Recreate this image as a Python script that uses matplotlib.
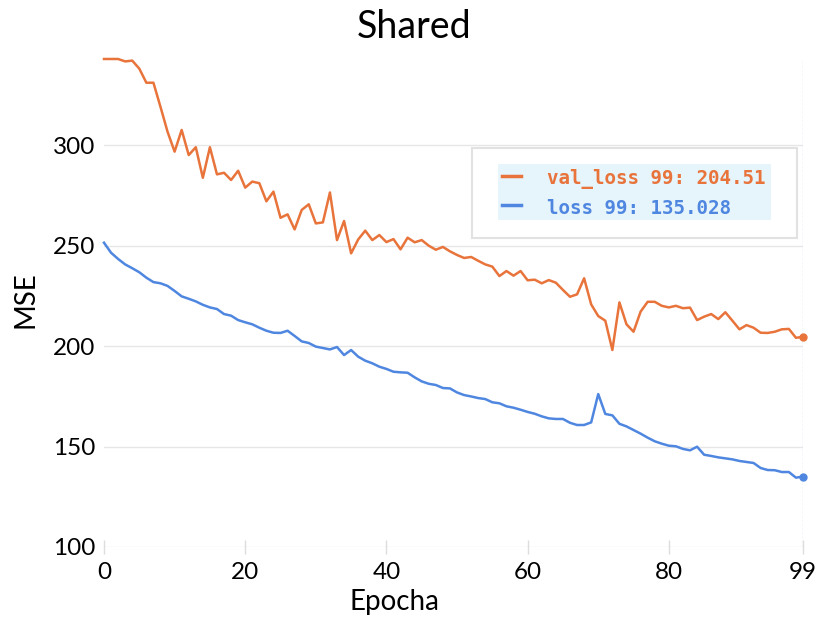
import numpy as np
import matplotlib
matplotlib.use("Agg")
import matplotlib.pyplot as plt
from matplotlib.patches import Rectangle
from matplotlib.lines import Line2D

# loss per epoch
epoche = np.arange(100)

val_loss = [
    342.8, 342.8, 342.8, 341.6, 342.0, 338.0, 331.0, 331.0, 319.0, 306.6,
    296.7, 307.5, 295.0, 298.9, 283.7, 298.9, 285.4, 286.2, 282.6, 287.2,
    278.8, 281.8, 281.0, 272.0, 276.8, 263.8, 265.5, 258.0, 267.7, 270.5,
    261.0, 261.5, 276.4, 252.7, 262.2, 246.1, 253.0, 257.4, 252.7, 255.2,
    251.7, 253.2, 248.1, 253.9, 251.6, 252.7, 249.9, 247.9, 249.3, 247.1,
    245.3, 243.8, 244.3, 242.4, 240.6, 239.5, 234.8, 237.3, 235.0, 237.3,
    232.7, 233.0, 231.2, 232.8, 231.5, 227.9, 224.5, 225.7, 233.7, 220.7,
    214.9, 212.6, 198.0, 221.7, 210.8, 207.1, 217.1, 222.0, 222.0, 220.0,
    219.2, 220.0, 218.8, 219.1, 212.9, 214.6, 215.9, 213.4, 216.8, 212.6,
    208.3, 210.4, 209.1, 206.6, 206.5, 207.1, 208.3, 208.5, 204.1, 204.51,
]

loss = [
    251.4, 246.4, 243.3, 240.6, 238.7, 236.7, 234.0, 231.8, 231.2, 229.9,
    227.4, 224.7, 223.5, 222.2, 220.5, 219.2, 218.4, 215.9, 215.1, 212.9,
    211.8, 210.8, 209.1, 207.6, 206.6, 206.5, 207.6, 205.0, 202.3, 201.5,
    199.7, 199.0, 198.3, 199.5, 195.5, 198.0, 194.7, 192.7, 191.4, 189.7,
    188.6, 187.2, 186.9, 186.7, 184.4, 182.4, 181.2, 180.6, 179.1, 178.9,
    176.9, 175.6, 174.9, 174.1, 173.6, 172.0, 171.5, 170.0, 169.3, 168.3,
    167.2, 166.3, 165.0, 164.0, 163.7, 163.7, 161.8, 160.7, 160.7, 162.0,
    176.1, 166.2, 165.5, 161.3, 160.0, 158.2, 156.4, 154.4, 152.6, 151.4,
    150.4, 150.1, 148.8, 148.1, 149.9, 145.9, 145.3, 144.6, 144.1, 143.6,
    142.8, 142.3, 141.8, 139.3, 138.3, 138.2, 137.3, 137.3, 134.5, 135.028,
]

x_ticks = [0, 20, 40, 60, 80, 99]
y_ticks = [100, 150, 200, 250, 300]

ARANCIO = "#E8743B"
BLU = "#4F87E0"

plt.rcParams["font.family"] = ["Lato", "DejaVu Sans"]

fig = plt.figure(figsize=(8.19, 6.19), dpi=100)
ax = fig.add_axes([0.12698, 0.11632, 0.85348, 0.78837])

# griglia orizzontale leggera
for yv in y_ticks:
    ax.axhline(yv, color="#e6e6e6", lw=1.0, zorder=0)

# linea verticale sull'ultima epoca
ax.axvline(epoche[-1], color="#c9dff2", lw=1.0, ls=(0, (2, 1)), zorder=1)

ax.plot(epoche, val_loss, color=ARANCIO, lw=1.8, zorder=3, clip_on=False)
ax.plot(epoche, loss, color=BLU, lw=1.8, zorder=3, clip_on=False)
ax.plot(epoche[-1], val_loss[-1], "o", color=ARANCIO, ms=5, zorder=4, clip_on=False)
ax.plot(epoche[-1], loss[-1], "o", color=BLU, ms=5, zorder=4, clip_on=False)

ax.set_xlim(0, 99)
ax.set_ylim(100, max(val_loss))
ax.set_xticks(x_ticks)
ax.set_yticks(y_ticks)
for s in ax.spines.values():
    s.set_visible(False)
ax.tick_params(axis="x", direction="inout", length=10, width=1, color="#dddddd",
               pad=6, labelsize=17.5)
ax.tick_params(axis="y", length=0, pad=6, labelsize=17.5)

fig.text(414 / 819, 1 - 27 / 619, "Shared", ha="center", va="center", fontsize=27)
fig.text(394 / 819, 1 - 602 / 619, "Epocha", ha="center", va="center", fontsize=20)
fig.text(25 / 819, 1 - 300 / 619, "MSE", ha="center", va="center", fontsize=20,
         rotation=90)

# riquadro legenda
fig.patches.append(Rectangle((472 / 819, 1 - 238 / 619), 325 / 819, 90 / 619,
                             transform=fig.transFigure, facecolor="white",
                             edgecolor="#e2e2e2", lw=1.5, zorder=5))
fig.patches.append(Rectangle((498 / 819, 1 - 220 / 619), 273 / 819, 56 / 619,
                             transform=fig.transFigure, facecolor="#E6F4FC",
                             edgecolor="none", zorder=6))
for yy, col, testo in [(176, ARANCIO, "val_loss 99: 204.51"),
                       (205, BLU, "loss 99: 135.028")]:
    fig.lines.append(Line2D([502 / 819, 521 / 819], [1 - yy / 619, 1 - yy / 619],
                            transform=fig.transFigure, color=col, lw=2.5,
                            zorder=7))
    fig.text(547 / 819, 1 - (yy + 3) / 619, testo, color=col, fontsize=13.8,
             family="DejaVu Sans Mono", fontweight="bold", ha="left",
             va="center", zorder=7)

fig.savefig("out.png", dpi=100)
